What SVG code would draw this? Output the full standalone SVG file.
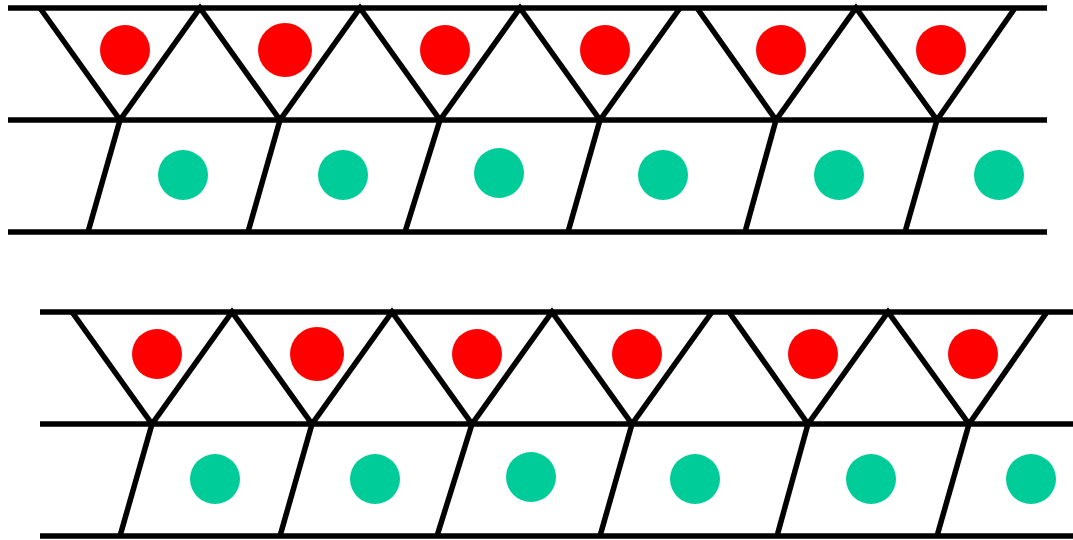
<svg xmlns="http://www.w3.org/2000/svg" width="1073" height="540" viewBox="0 0 1073 540">
<style>
.ln{stroke:#000;stroke-width:5.5;fill:none;stroke-linejoin:miter}
.red{fill:#ff0000}
.grn{fill:#00cc99}
</style>
<defs>
<g id="panel">
<g id="lines" class="ln">
<line x1="8" y1="8" x2="1047" y2="8"/>
<line x1="8" y1="120" x2="1047" y2="120"/>
<line x1="8" y1="232" x2="1047" y2="232"/>
<polyline points="40,8 120,120 200,8 280,120 360,8 440,120 520,8 600,120 680,8"/>
<polyline points="697,8 776,120 856,8 937,120 1015,8"/>
<line x1="120" y1="120" x2="88" y2="232"/>
<line x1="280" y1="120" x2="248" y2="232"/>
<line x1="440" y1="120" x2="405" y2="232"/>
<line x1="600" y1="120" x2="568" y2="232"/>
<line x1="776" y1="120" x2="745" y2="232"/>
<line x1="937" y1="120" x2="905" y2="232"/>
</g>
<g id="redcells" class="red">
<circle cx="125" cy="50" r="25"/>
<circle cx="285" cy="50" r="27"/>
<circle cx="445" cy="50" r="25"/>
<circle cx="605" cy="50" r="25"/>
<circle cx="781" cy="50" r="25"/>
<circle cx="941" cy="50" r="25"/>
</g>
<g id="greencells" class="grn">
<circle cx="183" cy="175" r="25"/>
<circle cx="343" cy="175" r="25"/>
<circle cx="499" cy="173" r="25"/>
<circle cx="663" cy="175" r="25"/>
<circle cx="839" cy="175" r="25"/>
<circle cx="999" cy="175" r="25"/>
</g>
</g>
</defs>
<rect width="1073" height="540" fill="#fff"/>
<g id="panel-top"><use href="#panel"/></g>
<g id="panel-bottom"><use href="#panel" transform="translate(32,304)"/></g>
</svg>
